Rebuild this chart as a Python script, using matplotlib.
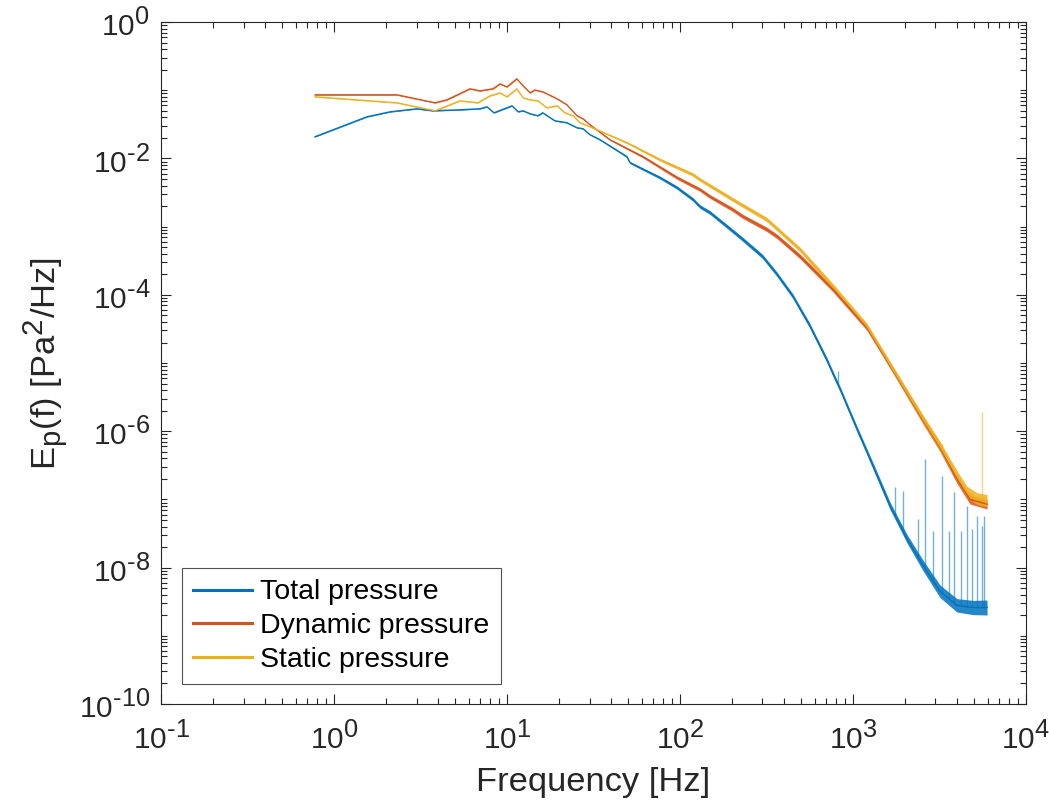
import numpy as np
import matplotlib
matplotlib.use('Agg')
import matplotlib.pyplot as plt
import matplotlib._mathtext as mathtext_internals
from matplotlib.ticker import LogLocator, NullFormatter, FuncFormatter

# ---- data (frequency in Hz, E_p in Pa^2/Hz) ----
total_f = [0.776, 1.55, 2.11, 3.02, 3.73, 5.35, 6.98, 7.66, 8.41, 10.7, 11.6, 12.4,
           13.6, 15.1, 16.1, 18.9, 22.2, 25.4, 27.5, 30.2, 34.5, 49.4, 51.4, 76.6,
           96.1, 119, 130.5, 149, 187, 231, 300, 364, 450, 564, 708, 766, 841,
           1055, 1305, 1637, 2051, 2540, 3186, 3990, 4940, 5960]
total_e = [0.0208, 0.0408, 0.0483, 0.0535, 0.050, 0.0517, 0.0535, 0.0572, 0.0467,
           0.0591, 0.0483, 0.050, 0.0452, 0.0423, 0.0467, 0.0357, 0.0334, 0.0282,
           0.0273, 0.0223, 0.0188, 0.0106, 0.00868, 0.00524, 0.00374, 0.0025,
           1.97e-3, 1.61e-3, 1.01e-3, 6.5e-4, 3.66e-4, 2.0e-4, 9.5e-5, 3.5e-5,
           1.1e-5, 7.0e-6, 4.2e-6, 1.08e-6, 3.12e-7, 8.1e-8, 2.67e-8, 1.08e-8,
           4.5e-9, 2.8e-9, 2.6e-9, 2.6e-9]

dyn_f = [0.776, 2.31, 3.84, 4.50, 6.11, 6.98, 8.30, 9.12, 10.0, 11.4, 12.4, 13.6,
         14.5, 16.1, 19.5, 22.2, 25.4, 27.5, 30.2, 39.4, 61.1, 96.1, 130.5, 149,
         202, 231, 318, 364, 494, 766, 1205, 1795, 2540, 3186, 3990, 4745, 5960]
dyn_e = [0.0857, 0.0857, 0.0655, 0.0724, 0.105, 0.098, 0.105, 0.124, 0.112, 0.147,
         0.116, 0.0916, 0.101, 0.0948, 0.0749, 0.0612, 0.0423, 0.0382, 0.0312,
         0.0188, 0.0106, 0.00524, 3.5e-3, 2.77e-3, 1.78e-3, 1.41e-3, 9.1e-4,
         7.2e-4, 3.67e-4, 1.21e-4, 3.3e-5, 6.3e-6, 1.45e-6, 5.8e-7, 2.0e-7,
         1.0e-7, 8.5e-8]

stat_f = [0.776, 2.31, 3.84, 5.35, 6.80, 7.97, 9.12, 10.0, 11.4, 12.4, 13.6, 15.1,
          17.0, 19.5, 21.6, 24.1, 26.4, 30.2, 49.4, 76.6, 119, 130.5, 202, 318,
          494, 766, 1205, 1795, 2540, 3186, 3990, 4560, 5210, 5960]
stat_e = [0.0801, 0.0655, 0.050, 0.070, 0.0655, 0.0828, 0.0916, 0.0801, 0.105,
          0.0774, 0.0724, 0.070, 0.0553, 0.0591, 0.0467, 0.0423, 0.0334, 0.0292,
          0.0170, 0.0096, 0.0058, 4.9e-3, 2.5e-3, 1.27e-3, 4.64e-4, 1.34e-4,
          3.48e-5, 6.5e-6, 1.52e-6, 6.1e-7, 2.23e-7, 1.3e-7, 1.03e-7, 9.6e-8]

# half-width of the noise band (decades) along each curve
spread_f = [30, 100, 500, 1000, 2000, 3000, 6000]
total_spread = [0.006, 0.025, 0.035, 0.04, 0.06, 0.09, 0.11]
dyn_spread = [0.006, 0.025, 0.035, 0.04, 0.045, 0.06, 0.07]
stat_spread = [0.006, 0.025, 0.035, 0.04, 0.05, 0.065, 0.09]

# isolated spikes at high frequency
total_spike_f = [819, 1750, 1945, 2376, 2608, 2900, 3268, 3587, 3835, 4210, 4560,
                 4875, 5210, 5570, 5715]
total_spike_e = [7.6e-6, 1.54e-7, 1.35e-7, 5.1e-8, 3.95e-7, 3.4e-8, 2.23e-7,
                 3.4e-8, 1.3e-7, 3.4e-8, 8.1e-8, 3.7e-8, 5.8e-8, 4.1e-8, 5.8e-8]
stat_spike_f = [3268, 5570]
stat_spike_e = [6.5e-7, 1.92e-6]

labels = ['Total pressure', 'Dynamic pressure', 'Static pressure']
colors = ['#0072BD', '#D95319', '#EDB120']

plt.rcParams['font.family'] = ['Liberation Sans', 'DejaVu Sans']
plt.rcParams['mathtext.fontset'] = 'custom'
plt.rcParams['mathtext.rm'] = 'Liberation Sans'
plt.rcParams['mathtext.default'] = 'regular'
plt.rcParams['axes.unicode_minus'] = False
# MATLAB's tex superscripts are larger than mathtext's default 0.7
mathtext_internals.SHRINK_FACTOR = 0.85

fig = plt.figure(figsize=(10.49, 8.08), dpi=100)
ax = fig.add_axes([0.1535, 0.1287, 0.8245, 0.844])


def draw(f, e, spread, color, label):
    f = np.asarray(f, float)
    e = np.asarray(e, float)
    w = np.interp(np.log10(f), np.log10(spread_f), spread)
    ax.fill_between(f, e / 10**w, e * 10**w, color=color, lw=0, alpha=0.85)
    ax.plot(f, e, color=color, lw=1.0, label=label)


def spikes(sf, se, f, e, color):
    base = 10**np.interp(np.log10(sf), np.log10(f), np.log10(e))
    ax.vlines(sf, base, se, color=color, lw=1.0, alpha=0.55)


def pow_label(v, pos):
    n = int(round(np.log10(v)))
    if n < 0:
        return r'$10^{\text{-}%d}$' % -n
    return r'$10^{%d}$' % n


draw(total_f, total_e, total_spread, colors[0], labels[0])
spikes(total_spike_f, total_spike_e, total_f, total_e, colors[0])
draw(dyn_f, dyn_e, dyn_spread, colors[1], labels[1])
draw(stat_f, stat_e, stat_spread, colors[2], labels[2])
spikes(stat_spike_f, stat_spike_e, stat_f, stat_e, colors[2])

ax.set_xscale('log')
ax.set_yscale('log')
ax.set_xlim(1e-1, 1e4)
ax.set_ylim(1e-10, 1e0)
ax.set_xticks([1e-1, 1e0, 1e1, 1e2, 1e3, 1e4])
ax.set_yticks([1e-10, 1e-8, 1e-6, 1e-4, 1e-2, 1e0])
ax.xaxis.set_major_formatter(FuncFormatter(pow_label))
ax.yaxis.set_major_formatter(FuncFormatter(pow_label))
ax.xaxis.set_minor_locator(LogLocator(base=10, subs=np.arange(2, 10), numticks=20))
ax.yaxis.set_minor_locator(LogLocator(base=10, subs=np.arange(1, 10), numticks=30))
ax.xaxis.set_minor_formatter(NullFormatter())
ax.yaxis.set_minor_formatter(NullFormatter())

gray = '#262626'
for s in ax.spines.values():
    s.set_color(gray)
    s.set_linewidth(0.8)
ax.tick_params(which='both', direction='in', top=True, right=True, colors=gray,
               labelsize=21.5, width=0.8)
ax.tick_params(axis='x', which='major', length=7, pad=12)
ax.tick_params(axis='y', which='major', length=7, pad=8)
ax.tick_params(which='minor', length=4)

ax.set_xlabel('Frequency [Hz]', fontsize=24.8, color=gray, labelpad=9)
ax.set_ylabel(r'E$_{p}$(f) [Pa$^{2}$/Hz]', fontsize=24.8, color=gray, labelpad=6)

leg = ax.legend(loc='lower left', bbox_to_anchor=(0.024, 0.029), fontsize=20.5,
                frameon=True, fancybox=False, handlelength=2.07, handletextpad=0.28,
                borderpad=0.4, labelspacing=0.27, borderaxespad=0)
leg.get_frame().set_edgecolor(gray)
leg.get_frame().set_linewidth(0.8)
for line in leg.get_lines():
    line.set_linewidth(2.2)

fig.savefig('out.png', dpi=100)
